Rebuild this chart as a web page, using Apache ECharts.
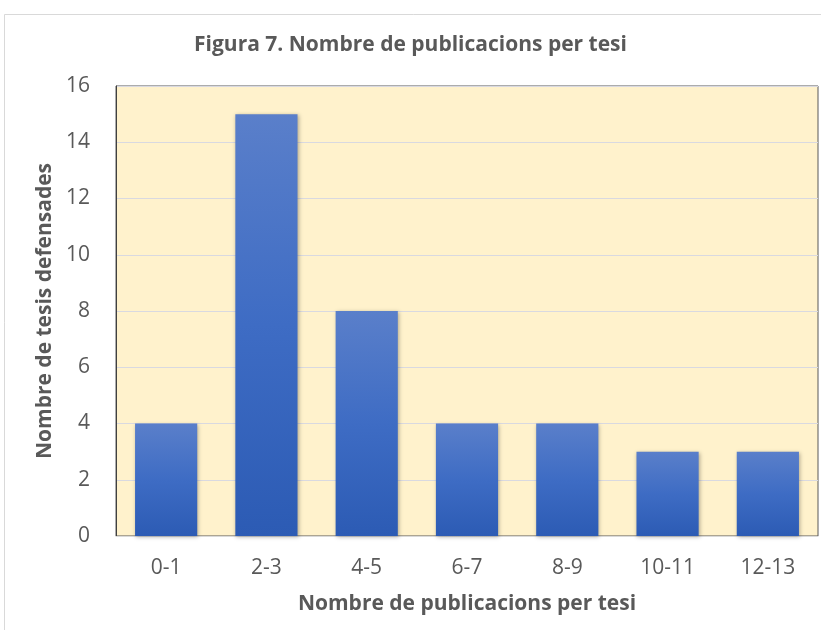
<!DOCTYPE html>
<html>
<head>
<meta charset="utf-8">
<script src="https://cdn.jsdelivr.net/npm/echarts@6/dist/echarts.min.js"></script>
<style>
  html, body { margin: 0; padding: 0; background: #fff; }
  #chart { width: 821px; height: 630px; }
</style>
</head>
<body>
<div id="chart"></div>
<script>
const categories = ['0-1', '2-3', '4-5', '6-7', '8-9', '10-11', '12-13']
const thesisCounts = [4, 15, 8, 4, 4, 3, 3]
const yTicks = [0, 2, 4, 6, 8, 10, 12, 14, 16]

const font = '"Open Sans", Lato, sans-serif'
const textColor = '#595959'

const chart = echarts.init(document.getElementById('chart'))

const option = {
  backgroundColor: '#fff',
  animation: false,
  graphic: [
    {
      type: 'rect',
      shape: { x: 4.5, y: 14.5, width: 830, height: 640 },
      style: { fill: 'none', stroke: '#d9d9d9', lineWidth: 1 },
      silent: true
    }
  ],
  title: {
    text: 'Figura 7. Nombre de publicacions per tesi',
    left: 'center',
    top: 30,
    textStyle: { fontFamily: font, fontSize: 21, fontWeight: 'bold', color: textColor }
  },
  grid: {
    left: 116,
    right: 3,
    top: 86,
    bottom: 94,
    show: true,
    backgroundColor: '#FFF2CC',
    borderColor: '#595959',
    borderWidth: 1
  },
  xAxis: {
    type: 'category',
    data: categories,
    name: 'Nombre de publicacions per tesi',
    nameLocation: 'middle',
    nameGap: 58,
    nameTextStyle: { fontFamily: font, fontSize: 21, fontWeight: 'bold', color: textColor },
    axisLine: { show: true, lineStyle: { color: '#d9d9d9', width: 1 } },
    axisTick: { show: false },
    axisLabel: { fontFamily: font, fontSize: 21, color: textColor, margin: 22 }
  },
  yAxis: {
    type: 'value',
    min: yTicks[0],
    max: yTicks[yTicks.length - 1],
    interval: 2,
    name: 'Nombre de tesis defensades',
    nameLocation: 'middle',
    nameGap: 60,
    nameTextStyle: { fontFamily: font, fontSize: 21, fontWeight: 'bold', color: textColor },
    axisLine: { show: true, lineStyle: { color: '#404040', width: 1 } },
    axisTick: { show: false },
    axisLabel: { fontFamily: font, fontSize: 21, color: textColor, margin: 26 },
    splitLine: { lineStyle: { color: '#d9d9e0', width: 1 } }
  },
  series: [
    {
      type: 'bar',
      data: thesisCounts,
      barWidth: '62%',
      itemStyle: {
        color: new echarts.graphic.LinearGradient(0, 0, 0, 1, [
          { offset: 0, color: '#5a7fca' },
          { offset: 0.5, color: '#3e6cc4' },
          { offset: 1, color: '#2c5bb4' }
        ]),
        shadowColor: 'rgba(0,0,0,0.3)',
        shadowBlur: 4,
        shadowOffsetX: 1,
        shadowOffsetY: 1
      }
    }
  ]
}

chart.setOption(option)
</script>
</body>
</html>
